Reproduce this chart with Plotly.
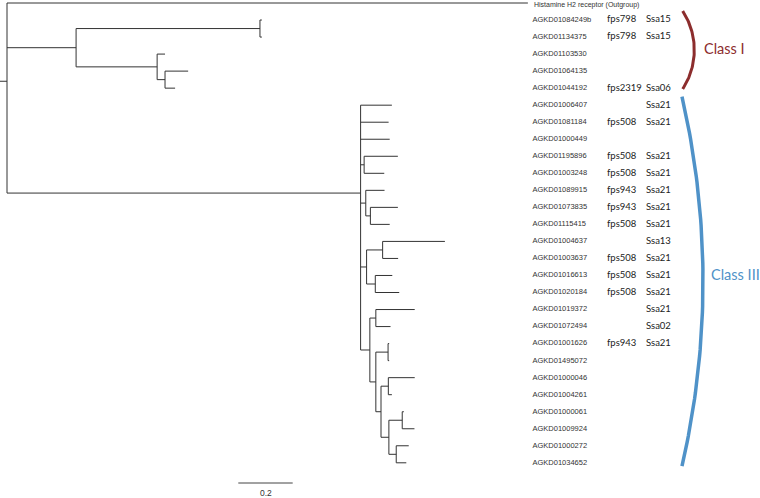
import plotly.graph_objects as go
import math

# ---------------- data ----------------
leaf_names = [
    "Histamine H2 receptor (Outgroup)",
    "AGKD01084249b", "AGKD01134375", "AGKD01103530", "AGKD01064135", "AGKD01044192",
    "AGKD01006407", "AGKD01081184", "AGKD01000449", "AGKD01195896", "AGKD01003248",
    "AGKD01089915", "AGKD01073835", "AGKD01115415", "AGKD01004637", "AGKD01003637",
    "AGKD01016613", "AGKD01020184", "AGKD01019372", "AGKD01072494", "AGKD01001626",
    "AGKD01495072", "AGKD01000046", "AGKD01004261", "AGKD01000061", "AGKD01009924",
    "AGKD01000272", "AGKD01034652",
]
fps_ids = [
    "", "fps798", "fps798", "", "", "fps2319",
    "", "fps508", "", "fps508", "fps508",
    "fps943", "fps943", "fps508", "", "fps508",
    "fps508", "fps508", "", "", "fps943",
    "", "", "", "", "", "", "",
]
chrom_ids = [
    "", "Ssa15", "Ssa15", "", "", "Ssa06",
    "Ssa21", "Ssa21", "", "Ssa21", "Ssa21",
    "Ssa21", "Ssa21", "Ssa21", "Ssa13", "Ssa21",
    "Ssa21", "Ssa21", "Ssa21", "Ssa02", "Ssa21",
    "", "", "", "", "", "", "",
]

# tree: leaf = (name, branch_length); internal = (branch_length, [children])
tree = (0.0, [
    ("Histamine H2 receptor (Outgroup)", 1.915),
    (0.254, [
        (0.676, [("AGKD01084249b", 0.007), ("AGKD01134375", 0.007)]),
        (0.298, [("AGKD01103530", 0.029),
                 (0.029, [("AGKD01064135", 0.085), ("AGKD01044192", 0.037)])]),
    ]),
    (1.300, [
        ("AGKD01006407", 0.115),
        ("AGKD01081184", 0.103),
        ("AGKD01000449", 0.107),
        (0.013, [("AGKD01195896", 0.124), ("AGKD01003248", 0.074)]),
        (0.019, [("AGKD01089915", 0.069),
                 (0.017, [("AGKD01073835", 0.101), ("AGKD01115415", 0.071)])]),
        (0.022, [(0.059, [("AGKD01004637", 0.229), ("AGKD01003637", 0.057)]),
                 (0.032, [("AGKD01016613", 0.0625), ("AGKD01020184", 0.088)])]),
        (0.034, [
            (0.022, [("AGKD01019372", 0.143), ("AGKD01072494", 0.054)]),
            (0.022, [
                (0.045, [("AGKD01001626", 0.004), ("AGKD01495072", 0.004)]),
                (0.019, [
                    (0.027, [("AGKD01000046", 0.097), ("AGKD01004261", 0.013)]),
                    (0.029, [
                        (0.049, [("AGKD01000061", 0.006), ("AGKD01009924", 0.045)]),
                        (0.027, [("AGKD01000272", 0.046), ("AGKD01034652", 0.037)]),
                    ]),
                ]),
            ]),
        ]),
    ]),
])

scale_bar_length = 0.2
class_labels = ["Class I", "Class III"]

# ---------------- layout constants ----------------
W, H = 760, 498
PX_PER_UNIT = 272.0
X_ORIGIN_PX = 7.0
ROW_PX = 17.03
Y_ORIGIN_PX = 3.0

def px_to_x(px):
    return (px - X_ORIGIN_PX) / PX_PER_UNIT

def py_to_y(py):
    return (py - Y_ORIGIN_PX) / ROW_PX

xr = [px_to_x(0), px_to_x(W)]
yr = [py_to_y(H), py_to_y(0)]

leaf_index = {n: i for i, n in enumerate(leaf_names)}

# ---------------- layout the tree ----------------
seg_x, seg_y = [], []

def walk(node, parent_x):
    if isinstance(node[0], str):
        name, bl = node
        x = parent_x + bl
        y = leaf_index[name]
    else:
        bl, children = node
        x = parent_x + bl
        ys = [walk(c, x) for c in children]
        y = sum(ys) / len(ys)
        seg_x.extend([x, x, None])
        seg_y.extend([min(ys), max(ys), None])
    seg_x.extend([parent_x, x, None])
    seg_y.extend([y, y, None])
    return y

root_y = walk(tree, 0.0)
seg_x.extend([px_to_x(0), 0.0, None])
seg_y.extend([root_y, root_y, None])

fig = go.Figure()
fig.add_trace(go.Scatter(x=seg_x, y=seg_y, mode="lines",
                         line=dict(color="#333333", width=1),
                         hoverinfo="skip", showlegend=False))

# labels
name_x = px_to_x(532.5)
fps_x = px_to_x(607)
chr_x = px_to_x(646)
ys = list(range(len(leaf_names)))
name_font = dict(family="Liberation Sans, Arial", size=7.5, color="#333333")
# first (outgroup) label sits at the very top edge: draw it nudged down slightly
fig.add_annotation(x=name_x, y=ys[0], text=leaf_names[0], showarrow=False,
                   xanchor="left", yanchor="middle", yshift=-1.5, xshift=-1,
                   font=dict(family="Liberation Sans, Arial", size=7, color="#333333"))
fig.add_trace(go.Scatter(x=[name_x] * (len(ys) - 1), y=ys[1:], mode="text", text=leaf_names[1:],
                         textposition="middle right", textfont=name_font,
                         hoverinfo="skip", showlegend=False))
fig.add_trace(go.Scatter(x=[fps_x] * len(ys), y=ys, mode="text", text=fps_ids,
                         textposition="middle right",
                         textfont=dict(family="Lato", size=9.5, color="#222222"),
                         hoverinfo="skip", showlegend=False))
fig.add_trace(go.Scatter(x=[chr_x] * len(ys), y=ys, mode="text", text=chrom_ids,
                         textposition="middle right",
                         textfont=dict(family="Lato", size=9.5, color="#222222"),
                         hoverinfo="skip", showlegend=False))

# class arcs (circular arcs defined in pixel space)
def arc(cx, cy, r, a0, a1, n=60):
    xs, ys_ = [], []
    for k in range(n + 1):
        a = a0 + (a1 - a0) * k / n
        xs.append(px_to_x(cx + r * math.cos(a)))
        ys_.append(py_to_y(cy + r * math.sin(a)))
    return xs, ys_

red = "#8c2d2d"
blue = "#4f92c8"
th1 = math.asin(39.0 / 71.4)
ax1, ay1 = arc(622.9, 50.0, 71.4, -th1, th1)
fig.add_trace(go.Scatter(x=ax1, y=ay1, mode="lines", line=dict(color=red, width=3),
                         hoverinfo="skip", showlegend=False))
th2 = math.asin(184.7 / 822.0)
ax2, ay2 = arc(-119.0, 281.4, 822.0, -th2, th2)
fig.add_trace(go.Scatter(x=ax2, y=ay2, mode="lines", line=dict(color=blue, width=3.5),
                         hoverinfo="skip", showlegend=False))

fig.add_annotation(x=px_to_x(702), y=py_to_y(48), text=class_labels[0], showarrow=False,
                   xanchor="left", yanchor="middle",
                   font=dict(family="Lato", size=14.5, color=red))
fig.add_annotation(x=px_to_x(709), y=py_to_y(274), text=class_labels[1], showarrow=False,
                   xanchor="left", yanchor="middle",
                   font=dict(family="Lato", size=14.5, color=blue))

# scale bar
sb_x0 = px_to_x(238.3)
sb_y = py_to_y(483)
fig.add_trace(go.Scatter(x=[sb_x0, sb_x0 + scale_bar_length], y=[sb_y, sb_y], mode="lines",
                         line=dict(color="#444444", width=1),
                         hoverinfo="skip", showlegend=False))
fig.add_annotation(x=sb_x0 + scale_bar_length / 2, y=py_to_y(493), text=str(scale_bar_length),
                   showarrow=False, xanchor="center", yanchor="middle",
                   font=dict(family="Liberation Sans, Arial", size=8.5, color="#333333"))

fig.update_layout(
    width=W, height=H,
    margin=dict(l=0, r=0, t=0, b=0),
    paper_bgcolor="white", plot_bgcolor="white",
    xaxis=dict(range=xr, visible=False, fixedrange=True),
    yaxis=dict(range=yr, visible=False, fixedrange=True),
    showlegend=False,
)

fig.write_html("out.html", config={"displayModeBar": False},
               post_script="document.body.style.margin='0';document.body.style.padding='0';")
